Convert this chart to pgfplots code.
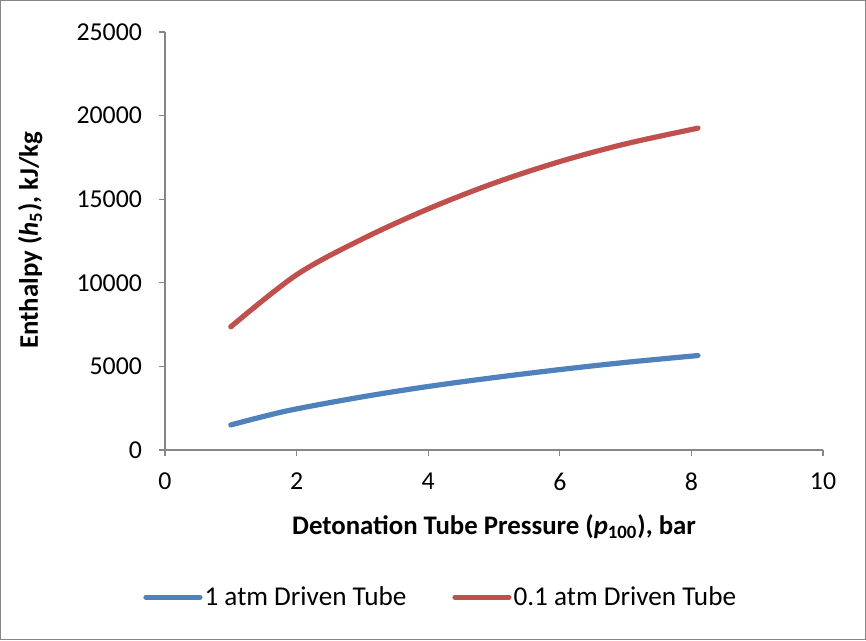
\documentclass[border=0pt]{standalone}
\usepackage{pgfplots}
\pgfplotsset{compat=1.18}
\usepackage{fontspec}
\setmainfont{Carlito}
\definecolor{xlblue}{HTML}{4F81BD}
\definecolor{xlred}{HTML}{C0504D}
\definecolor{xlgray}{HTML}{868686}
\begin{document}
\begin{tikzpicture}[x=1bp,y=1bp]
% outer chart frame
\draw[xlgray, line width=0.6bp, fill=white] (0.3,0.3) rectangle (432.7,319.7);
\begin{axis}[
  at={(82.5bp,95bp)}, anchor=south west,
  scale only axis, width=329bp, height=209bp,
  xmin=0, xmax=10, ymin=0, ymax=25000,
  xtick={0,2,...,10}, ytick={0,5000,...,25000},
  axis x line*=bottom, axis y line*=left,
  axis line style={xlgray, line width=0.6bp, -},
  tick style={xlgray, line width=0.6bp},
  tick align=outside, major tick length=3bp,
  /pgf/number format/assume math mode=true,
  /pgf/number format/fixed,
  /pgf/number format/set thousands separator={},
  scaled y ticks=false,
  ticklabel style={font=\fontsize{12.9bp}{15bp}\selectfont, text=black},
  xticklabel style={yshift=-5bp},
  yticklabel style={xshift=-5bp},
  xlabel={\textbf{Detonation Tube Pressure (\textit{p}\textsubscript{100}), bar}},
  ylabel={\textbf{Enthalpy (\textit{h}\textsubscript{5}), kJ/kg}},
  label style={font=\fontsize{13.4bp}{15bp}\selectfont},
  xlabel style={at={(axis description cs:0.5,-0.184)}, anchor=center},
  ylabel style={at={(axis description cs:-0.205,0.502)}, anchor=center, rotate=0},
  legend style={at={(axis description cs:0.419,-0.352)}, anchor=center,
    draw=none, fill=none, font=\fontsize{13.6bp}{15bp}\selectfont,
    nodes={inner sep=1bp},
    column sep=0bp, /tikz/every even column/.append style={column sep=22bp}},
  legend columns=2,
  legend cell align=left,
  legend image code/.code={\draw[#1, line cap=round] (0bp,0bp) -- (27bp,0bp);},
  clip=false,
]
\addplot[xlblue, line width=2.6bp, line cap=round, smooth, tension=0.6] coordinates {
  (1,1500) (1.5,2010) (2,2460) (3,3180) (4,3800) (5,4330) (6,4810) (7,5240) (8.1,5650)
};
\addlegendentry{1 atm Driven Tube}
\addplot[xlred, line width=2.6bp, line cap=round, smooth, tension=0.55] coordinates {
  (1,7370) (2,10480) (3,12620) (4,14420) (5,15960) (6,17250) (7,18310) (8.1,19250)
};
\addlegendentry{0.1 atm Driven Tube}
\end{axis}
\end{tikzpicture}
\end{document}
